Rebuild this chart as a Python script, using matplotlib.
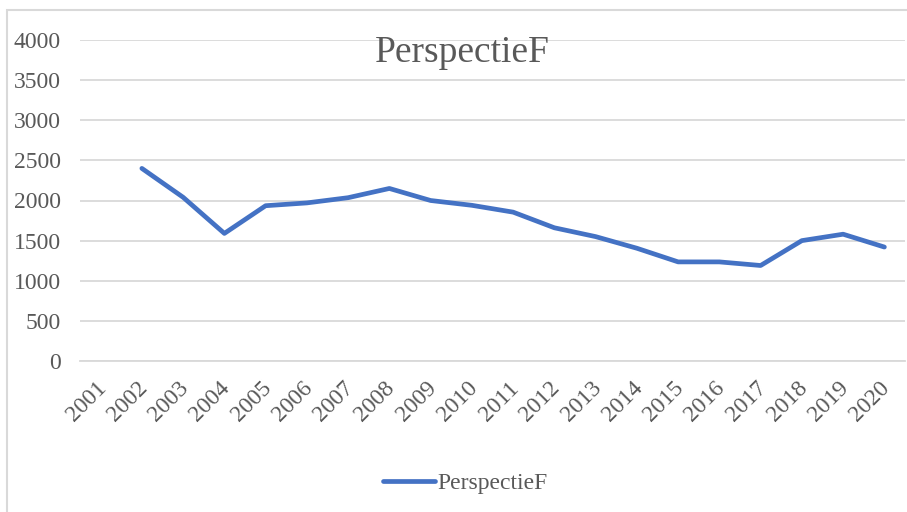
import numpy as np
import matplotlib.pyplot as plt
import matplotlib.transforms as mtrans
from matplotlib.patches import Rectangle

plt.rcParams['font.family'] = ['Liberation Serif', 'DejaVu Serif']

years = ['2001', '2002', '2003', '2004', '2005', '2006', '2007', '2008', '2009', '2010',
         '2011', '2012', '2013', '2014', '2015', '2016', '2017', '2018', '2019', '2020']
values = [np.nan, 2400, 2040, 1590, 1935, 1970, 2035, 2150, 2000, 1940,
          1855, 1660, 1550, 1405, 1235, 1235, 1190, 1500, 1580, 1420]
series_name = 'PerspectieF'

grey_text = '#595959'
grid_col = '#D9D9D9'
blue = '#4472C4'

W, H = 907, 512
fig = plt.figure(figsize=(W / 100, H / 100), dpi=100)

# outer chart border (cut by the image edge on the right and bottom)
fig.patches.append(Rectangle((7 / W, -0.1), 1.2, (H - 10) / H + 0.1,
                             transform=fig.transFigure, fill=False,
                             edgecolor=grid_col, linewidth=1.5))

ax = fig.add_axes([80 / W, (H - 361) / H, 825 / W, 321 / H])
x = np.arange(len(years))
ax.plot(x, values, color=blue, linewidth=3.4, solid_capstyle='round',
        solid_joinstyle='round', label=series_name, zorder=3)

ax.set_xlim(-0.5, len(years) - 0.5)
ax.set_ylim(0, 4000)
ax.set_yticks(np.arange(0, 4001, 500))
ax.yaxis.grid(True, color=grid_col, linewidth=1.3)
ax.set_axisbelow(True)
for s in ['top', 'right', 'left']:
    ax.spines[s].set_visible(False)
ax.spines['bottom'].set_color(grid_col)
ax.spines['bottom'].set_linewidth(1.3)
ax.tick_params(axis='both', length=0, labelsize=17, labelcolor=grey_text)
ax.tick_params(axis='y', pad=14)
ax.set_xticks(x)
ax.set_xticklabels(years, rotation=45, ha='right', va='top', rotation_mode='anchor')
ax.tick_params(axis='x', pad=12)
shift = mtrans.ScaledTranslation(-5 / 100, 0, fig.dpi_scale_trans)
for lab in ax.get_xticklabels():
    lab.set_transform(lab.get_transform() + shift)

fig.text(0.51, (H - 53) / H, 'PerspectieF', ha='center', va='center',
         fontsize=27, color=grey_text)

leg = fig.legend(loc='center', bbox_to_anchor=(0.513, 1 - 483 / H), frameon=False,
                 fontsize=17, handlelength=2.2, handletextpad=0.1)
for t in leg.get_texts():
    t.set_color(grey_text)

fig.savefig('out.png', dpi=100)
